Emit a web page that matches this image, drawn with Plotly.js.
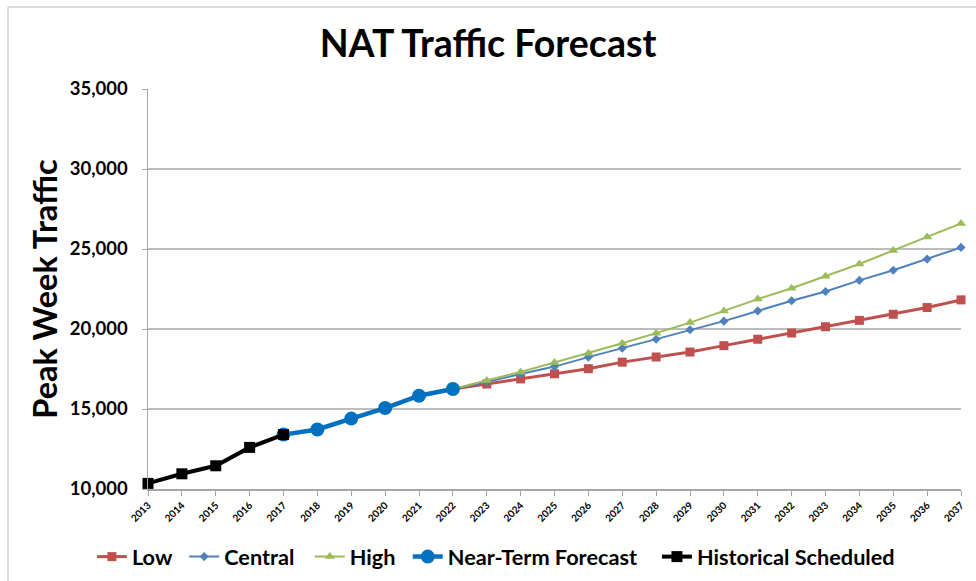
<!DOCTYPE html>
<html>
<head>
<meta charset="utf-8">
<script src="https://cdn.plot.ly/plotly-3.0.1.min.js"></script>
<style>
html,body{margin:0;padding:0;background:#fff;}
#chart{width:976px;height:581px;}
</style>
</head>
<body>
<div id="chart"></div>
<script>
// Data
const histYears = [2013, 2014, 2015, 2016, 2017];
const histValues = [10350, 10950, 11450, 12600, 13400];

const nearYears = [2017, 2018, 2019, 2020, 2021, 2022];
const nearValues = [13400, 13720, 14400, 15060, 15830, 16250];

const fcYears = [2022, 2023, 2024, 2025, 2026, 2027, 2028, 2029, 2030, 2031, 2032, 2033, 2034, 2035, 2036, 2037];
const lowValues = [16250, 16560, 16880, 17200, 17520, 17930, 18250, 18560, 18960, 19360, 19750, 20140, 20540, 20920, 21340, 21820];
const centralValues = [16250, 16680, 17190, 17650, 18240, 18800, 19360, 19950, 20490, 21130, 21770, 22340, 23040, 23670, 24370, 25100];
const highValues = [16250, 16780, 17320, 17910, 18490, 19110, 19740, 20400, 21130, 21870, 22550, 23290, 24060, 24910, 25750, 26600];

const tickYears = [2013, 2014, 2015, 2016, 2017, 2018, 2019, 2020, 2021, 2022, 2023, 2024, 2025, 2026, 2027, 2028, 2029, 2030, 2031, 2032, 2033, 2034, 2035, 2036, 2037];
const yTicks = [10000, 15000, 20000, 25000, 30000, 35000];
const yTickText = ["10,000", "15,000", "20,000", "25,000", "30,000", "35,000"];

const FONT = "Lato, 'Open Sans', sans-serif";

const traces = [
  {x: fcYears, y: lowValues, name: "Low", mode: "lines+markers", legend: "legend",
   line: {color: "#C0504D", width: 3}, marker: {symbol: "square", size: 9, color: "#C0504D"}, cliponaxis: false},
  {x: fcYears, y: centralValues, name: "Central", mode: "lines+markers", legend: "legend2",
   line: {color: "#4F81BD", width: 2}, marker: {symbol: "diamond", size: 7, color: "#4F81BD"}, cliponaxis: false},
  {x: fcYears, y: highValues, name: "High", mode: "lines+markers", legend: "legend3",
   line: {color: "#9BBB59", width: 2}, marker: {symbol: "triangle-up", size: 9, color: "#9BBB59"}, cliponaxis: false},
  {x: nearYears, y: nearValues, name: "Near-Term Forecast", mode: "lines+markers", legend: "legend4",
   line: {color: "#0070C0", width: 4.5}, marker: {symbol: "circle", size: 14, color: "#0070C0"}, cliponaxis: false},
  {x: histYears, y: histValues, name: "Historical Scheduled", mode: "lines+markers", legend: "legend5",
   line: {color: "#000000", width: 4}, marker: {symbol: "square", size: 11, color: "#000000"}, cliponaxis: false}
];

function legendAt(xp) {
  return {orientation: "h", x: xp, xanchor: "left", yref: "container", y: 0.0413, yanchor: "middle",
          font: {family: FONT, size: 21.7, color: "#000", weight: "bold"},
          itemwidth: 30, bgcolor: "rgba(0,0,0,0)", borderwidth: 0};
}

const layout = {
  width: 976, height: 581,
  paper_bgcolor: "#ffffff", plot_bgcolor: "#ffffff",
  margin: {l: 148, r: 15, t: 89, b: 92},
  font: {family: FONT, color: "#000"},
  title: {text: "NAT Traffic Forecast", font: {family: FONT, size: 37.5, color: "#000", weight: "bold"},
          x: 0.5, xanchor: "center", y: 0.925, yanchor: "middle"},
  showlegend: true,
  legend: legendAt(-0.0690),
  legend2: legendAt(0.0445),
  legend3: legendAt(0.1990),
  legend4: legendAt(0.3195),
  legend5: legendAt(0.6260),
  xaxis: {
    range: [2013, 2037], tickmode: "array", tickvals: tickYears,
    tickangle: -45, tickfont: {family: FONT, size: 10, weight: "bold"},
    showgrid: false, zeroline: false,
    showline: true, linecolor: "#a6a6a6", linewidth: 1.5,
    ticks: "outside", ticklen: 5, tickcolor: "#a6a6a6"
  },
  yaxis: {
    range: [10000, 35000], tickmode: "array", tickvals: yTicks, ticktext: yTickText,
    tickfont: {family: FONT, size: 18.5, weight: "bold"},
    ticklabelstandoff: 10,
    showgrid: true, gridcolor: "#bdbdbd", gridwidth: 1.5, zeroline: false,
    showline: true, linecolor: "#a6a6a6", linewidth: 1.5,
    ticks: "outside", ticklen: 5, tickcolor: "#a6a6a6",
    title: {text: "Peak Week Traffic", font: {family: FONT, size: 32.5, weight: "bold"}, standoff: 2}
  },
  shapes: [
    {type: "line", xref: "paper", yref: "paper", x0: -0.1722, x1: 1.02, y0: 1.205, y1: 1.205,
     line: {color: "#d0d0d0", width: 1.5}},
    {type: "line", xref: "paper", yref: "paper", x0: -0.1722, x1: -0.1722, y0: 1.205, y1: -0.25,
     line: {color: "#d0d0d0", width: 1.5}}
  ],
  hovermode: false
};

Plotly.newPlot("chart", traces, layout, {staticPlot: true, displayModeBar: false});
</script>
</body>
</html>
